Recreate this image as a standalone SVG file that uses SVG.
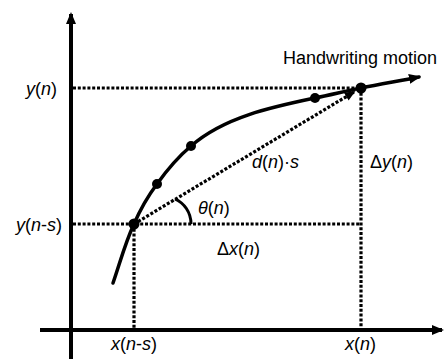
<svg xmlns="http://www.w3.org/2000/svg" width="444" height="359" viewBox="0 0 444 359">
<style>
.axis{stroke:#000;stroke-width:4;fill:none}
.dot-line{stroke:#000;stroke-width:3.2;stroke-dasharray:3 1.8;fill:none}
.arc{stroke:#000;stroke-width:3;fill:none}
.curve{stroke:#000;stroke-width:3.5;fill:none;stroke-linecap:round}
.pt{fill:#000}
text{font-family:"Liberation Sans",Arial,sans-serif;font-size:18px;fill:#000}
.i{font-style:italic}
</style>
<defs>
<marker id="arrow" viewBox="0 0 12 10" markerUnits="userSpaceOnUse" markerWidth="12" markerHeight="10" refX="10" refY="5" orient="auto">
<path d="M0,0 L12,5 L0,10 z" fill="#000"/>
</marker>
<marker id="arrowSmall" viewBox="0 0 12 10" markerUnits="userSpaceOnUse" markerWidth="11" markerHeight="9" refX="10" refY="5" orient="auto">
<path d="M0,0 L12,5 L0,10 z" fill="#000"/>
</marker>
</defs>
<g id="connectors">
<line id="y-axis" class="axis" x1="71" y1="359" x2="71" y2="14" marker-end="url(#arrow)"/>
<line id="x-axis" class="axis" x1="40" y1="330" x2="442" y2="330" marker-end="url(#arrow)"/>
<line class="dot-line" x1="73" y1="88" x2="361" y2="88"/>
<line class="dot-line" x1="73" y1="224" x2="361" y2="224"/>
<line class="dot-line" x1="134" y1="224" x2="134" y2="330"/>
<line class="dot-line" x1="361" y1="88" x2="361" y2="330"/>
<line id="diagonal" class="dot-line" x1="134" y1="224" x2="354" y2="92" marker-end="url(#arrowSmall)"/>
<path id="angle-arc" class="arc" d="M175,199 C184,203 191,212 191,224"/>
<path id="motion" class="curve" marker-end="url(#arrow)" d="M113,283 C120,263 125,243 134,224 C140,210 148,196 157,184 C167,170 178,157 191,146 C224,117 272,107 315,98 C330,95 346,91 361,88 C380,84 399,81 419,77"/>
</g>
<g id="points">
<circle class="pt" cx="134" cy="224" r="5.5"/>
<circle class="pt" cx="157" cy="184" r="5"/>
<circle class="pt" cx="191" cy="146" r="5"/>
<circle class="pt" cx="315" cy="98" r="5"/>
<circle class="pt" cx="361" cy="88" r="5.5"/>
</g>
<g id="labels">
<text x="26" y="95"><tspan class="i">y</tspan>(<tspan class="i">n</tspan>)</text>
<text x="16" y="231"><tspan class="i">y</tspan>(<tspan class="i">n</tspan>-<tspan class="i">s</tspan>)</text>
<text x="111" y="350"><tspan class="i">x</tspan>(<tspan class="i">n</tspan>-<tspan class="i">s</tspan>)</text>
<text x="345" y="350"><tspan class="i">x</tspan>(<tspan class="i">n</tspan>)</text>
<text x="283" y="64" textLength="154" lengthAdjust="spacing">Handwriting motion</text>
<text x="198" y="214"><tspan class="i">θ</tspan>(<tspan class="i">n</tspan>)</text>
<text x="217" y="255">Δ<tspan class="i">x</tspan>(<tspan class="i">n</tspan>)</text>
<text x="252" y="168"><tspan class="i">d</tspan>(<tspan class="i">n</tspan>)·<tspan class="i">s</tspan></text>
<text x="370" y="168">Δ<tspan class="i">y</tspan>(<tspan class="i">n</tspan>)</text>
</g>
</svg>
